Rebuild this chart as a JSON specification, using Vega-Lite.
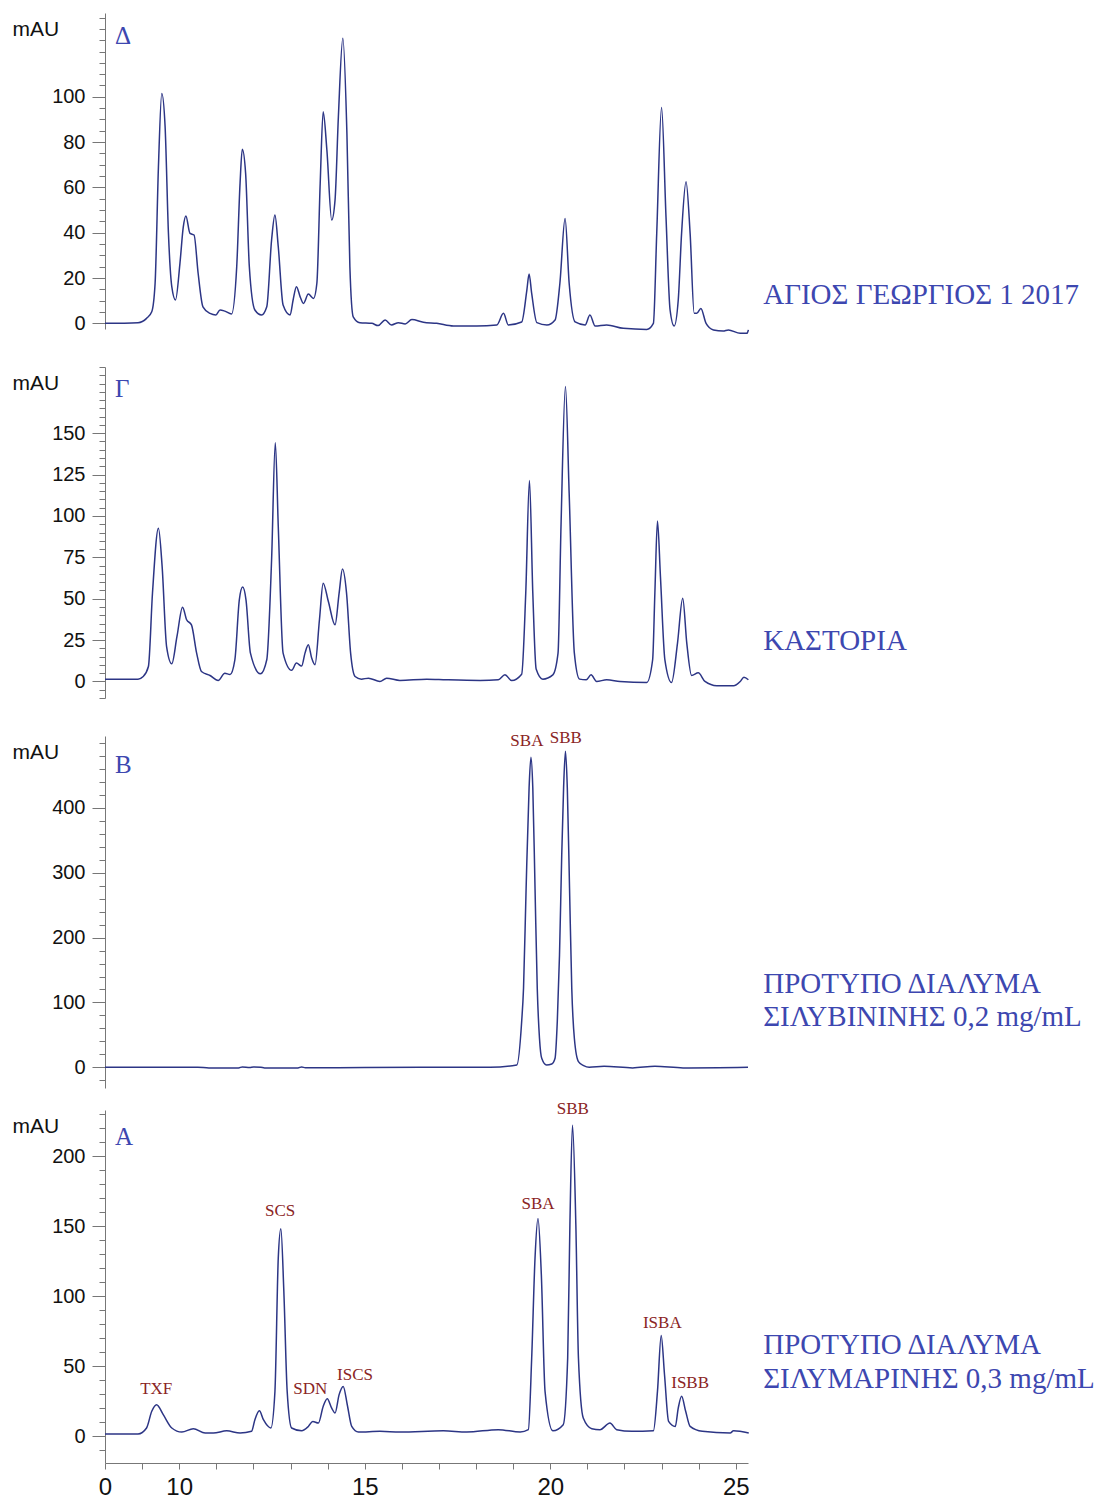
{
  "$schema": "https://vega.github.io/schema/vega-lite/v6.json",
  "autosize": {"type": "pad"},
  "padding": {"left": 12, "top": 7, "right": 0, "bottom": 0},
  "background": "white",
  "config": {
    "view": {"stroke": null},
    "font": "Liberation Sans",
    "axis": {"grid": false, "labelFlush": false, "labelOverlap": false, "domainColor": "#777", "tickColor": "#777", "labelColor": "#111", "labelFont": "Liberation Sans", "titleFont": "Liberation Sans", "domainWidth": 1, "tickWidth": 1},
    "axisY": {"labelFontSize": 20, "labelPadding": 7, "titleAngle": 0, "titleX": -93, "titleY": 22, "titleAlign": "left", "titleBaseline": "alphabetic", "titleFontWeight": "normal", "titleFontSize": 21, "titleColor": "#111"}
  },
  "datasets": {
    "d": [
      {"t":8.00,"v":0},{"t":8.89,"v":0.3},{"t":9.12,"v":2.2},{"t":9.26,"v":5.1},{"t":9.35,"v":17.6},{"t":9.44,"v":69},{"t":9.53,"v":101.5},{"t":9.62,"v":86.8},{"t":9.71,"v":39.7},{"t":9.80,"v":16.2},{"t":9.90,"v":10.3},{"t":10.02,"v":26.5},{"t":10.11,"v":42.6},{"t":10.18,"v":47.4},{"t":10.29,"v":39.7},{"t":10.40,"v":39},{"t":10.51,"v":22.1},{"t":10.64,"v":7.3},{"t":10.83,"v":4.4},{"t":10.99,"v":3.7},{"t":11.10,"v":5.9},{"t":11.23,"v":5.4},{"t":11.41,"v":4.1},{"t":11.55,"v":25},{"t":11.64,"v":61.8},{"t":11.70,"v":76.8},{"t":11.79,"v":66.2},{"t":11.89,"v":25},{"t":12.04,"v":5.9},{"t":12.22,"v":3.7},{"t":12.36,"v":7.3},{"t":12.49,"v":36.8},{"t":12.58,"v":47.8},{"t":12.67,"v":33.8},{"t":12.80,"v":8.1},{"t":12.99,"v":3.7},{"t":13.07,"v":10.3},{"t":13.16,"v":16.2},{"t":13.26,"v":11.7},{"t":13.35,"v":8.8},{"t":13.48,"v":12.9},{"t":13.62,"v":11},{"t":13.71,"v":17.7},{"t":13.80,"v":61.8},{"t":13.88,"v":93.4},{"t":13.98,"v":76.5},{"t":14.11,"v":45.6},{"t":14.20,"v":54.4},{"t":14.29,"v":91.2},{"t":14.41,"v":125.8},{"t":14.52,"v":83.8},{"t":14.60,"v":25},{"t":14.69,"v":2.9},{"t":14.87,"v":0.3},{"t":15.19,"v":0},{"t":15.36,"v":-1},{"t":15.55,"v":1.5},{"t":15.72,"v":-0.7},{"t":15.91,"v":0.3},{"t":16.09,"v":-0.3},{"t":16.27,"v":1.7},{"t":16.58,"v":0.5},{"t":16.94,"v":0},{"t":17.39,"v":-1.2},{"t":18.02,"v":-1.2},{"t":18.56,"v":-0.7},{"t":18.74,"v":4.4},{"t":18.87,"v":-0.7},{"t":19.23,"v":0.6},{"t":19.37,"v":14.7},{"t":19.43,"v":21.8},{"t":19.50,"v":13.2},{"t":19.64,"v":0.3},{"t":19.91,"v":-0.7},{"t":20.13,"v":1.5},{"t":20.26,"v":17.7},{"t":20.40,"v":46.3},{"t":20.51,"v":17.7},{"t":20.67,"v":0.6},{"t":20.94,"v":-0.7},{"t":21.07,"v":3.7},{"t":21.21,"v":-1.2},{"t":21.52,"v":-0.7},{"t":21.97,"v":-2.2},{"t":22.60,"v":-2.7},{"t":22.78,"v":0},{"t":22.87,"v":39.7},{"t":23.00,"v":95.3},{"t":23.12,"v":47},{"t":23.23,"v":5.9},{"t":23.34,"v":-1.2},{"t":23.45,"v":10.3},{"t":23.54,"v":39.7},{"t":23.66,"v":62.5},{"t":23.77,"v":39.7},{"t":23.88,"v":4.4},{"t":23.95,"v":4.4},{"t":24.06,"v":6.6},{"t":24.20,"v":0},{"t":24.40,"v":-2.9},{"t":24.66,"v":-3.4},{"t":24.80,"v":-2.9},{"t":25.12,"v":-4.4},{"t":25.30,"v":-4.4},{"t":25.34,"v":-2.9}
    ],
    "g": [
      {"t":8.00,"v":1.4},{"t":8.89,"v":1.4},{"t":9.03,"v":3},{"t":9.17,"v":9},{"t":9.28,"v":53.4},{"t":9.44,"v":92.6},{"t":9.54,"v":69.4},{"t":9.66,"v":21.1},{"t":9.80,"v":10.7},{"t":9.94,"v":27.2},{"t":10.09,"v":44.9},{"t":10.20,"v":37.3},{"t":10.33,"v":34.2},{"t":10.47,"v":17.1},{"t":10.60,"v":6},{"t":10.83,"v":3.6},{"t":11.05,"v":0.6},{"t":11.23,"v":5},{"t":11.37,"v":4.2},{"t":11.50,"v":13.1},{"t":11.62,"v":49.3},{"t":11.71,"v":57},{"t":11.80,"v":49.3},{"t":11.92,"v":17.1},{"t":12.19,"v":4.6},{"t":12.36,"v":13.1},{"t":12.49,"v":73.5},{"t":12.59,"v":144.3},{"t":12.67,"v":93.6},{"t":12.80,"v":17.1},{"t":13.03,"v":6.7},{"t":13.16,"v":11.1},{"t":13.30,"v":9.3},{"t":13.39,"v":17.1},{"t":13.48,"v":22.2},{"t":13.57,"v":14.2},{"t":13.66,"v":10.1},{"t":13.78,"v":37.3},{"t":13.88,"v":59.4},{"t":14.02,"v":48.3},{"t":14.20,"v":34.2},{"t":14.31,"v":53.4},{"t":14.40,"v":67.9},{"t":14.51,"v":53.4},{"t":14.62,"v":17.1},{"t":14.74,"v":3},{"t":14.91,"v":1.4},{"t":15.10,"v":2},{"t":15.41,"v":0},{"t":15.59,"v":2},{"t":15.95,"v":0.6},{"t":16.67,"v":1.4},{"t":17.20,"v":1},{"t":18.11,"v":0.6},{"t":18.60,"v":1},{"t":18.78,"v":4},{"t":18.96,"v":0.6},{"t":19.23,"v":4.4},{"t":19.34,"v":53.4},{"t":19.44,"v":121.4},{"t":19.53,"v":53.4},{"t":19.62,"v":7.5},{"t":19.80,"v":1.4},{"t":20.07,"v":4},{"t":20.21,"v":17.1},{"t":20.29,"v":93.6},{"t":20.41,"v":178.2},{"t":20.51,"v":113.8},{"t":20.65,"v":17.1},{"t":20.79,"v":1.4},{"t":20.97,"v":1},{"t":21.10,"v":4},{"t":21.25,"v":0},{"t":21.52,"v":1},{"t":21.88,"v":0},{"t":22.60,"v":-0.6},{"t":22.76,"v":13.1},{"t":22.82,"v":53.4},{"t":22.89,"v":97},{"t":22.97,"v":63.5},{"t":23.09,"v":13.1},{"t":23.27,"v":-0.6},{"t":23.43,"v":23.2},{"t":23.57,"v":50.3},{"t":23.68,"v":23.2},{"t":23.81,"v":3.6},{"t":23.99,"v":5.2},{"t":24.17,"v":0},{"t":24.49,"v":-2.6},{"t":24.94,"v":-2.6},{"t":25.12,"v":0},{"t":25.22,"v":2.6},{"t":25.34,"v":1}
    ],
    "b": [
      {"t":8.00,"v":0},{"t":10.5,"v":0},{"t":10.8,"v":-1},{"t":11.6,"v":-1},{"t":11.7,"v":0.5},{"t":11.9,"v":-0.5},{"t":12.0,"v":0.5},{"t":12.2,"v":0},{"t":12.3,"v":-1},{"t":13.2,"v":-1},{"t":13.3,"v":0.5},{"t":13.4,"v":-0.8},{"t":15.0,"v":-0.5},{"t":17.0,"v":0},{"t":18.38,"v":0},{"t":19.10,"v":3.6},{"t":19.23,"v":70.5},{"t":19.28,"v":122},{"t":19.35,"v":276.5},{"t":19.43,"v":431},{"t":19.48,"v":478.3},{"t":19.53,"v":431},{"t":19.59,"v":276.5},{"t":19.65,"v":122},{"t":19.71,"v":44.8},{"t":19.77,"v":13.9},{"t":19.90,"v":3.6},{"t":20.04,"v":5},{"t":20.13,"v":13.9},{"t":20.19,"v":70.5},{"t":20.25,"v":173.6},{"t":20.31,"v":328},{"t":20.36,"v":431},{"t":20.41,"v":487.6},{"t":20.46,"v":431},{"t":20.52,"v":276.5},{"t":20.58,"v":122},{"t":20.65,"v":44.8},{"t":20.76,"v":8.8},{"t":20.90,"v":2.6},{"t":21.05,"v":0},{"t":21.45,"v":1.5},{"t":22.22,"v":-1},{"t":22.82,"v":1.5},{"t":23.58,"v":-1},{"t":25.33,"v":0}
    ],
    "a": [
      {"t":8.00,"v":1.7},{"t":8.89,"v":1.7},{"t":9.12,"v":6},{"t":9.26,"v":17.9},{"t":9.39,"v":22.6},{"t":9.57,"v":15.5},{"t":9.80,"v":6},{"t":10.07,"v":3.1},{"t":10.38,"v":5.5},{"t":10.70,"v":2.4},{"t":10.92,"v":2.4},{"t":11.28,"v":4},{"t":11.64,"v":2.4},{"t":11.95,"v":3.6},{"t":12.04,"v":11.9},{"t":12.16,"v":18.3},{"t":12.27,"v":11.9},{"t":12.47,"v":6},{"t":12.58,"v":32.1},{"t":12.67,"v":127.4},{"t":12.74,"v":148.3},{"t":12.82,"v":103.6},{"t":12.91,"v":32.1},{"t":13.03,"v":6},{"t":13.30,"v":4},{"t":13.48,"v":7.1},{"t":13.60,"v":10.7},{"t":13.75,"v":9.5},{"t":13.88,"v":21.4},{"t":13.99,"v":26.9},{"t":14.11,"v":20.2},{"t":14.20,"v":16.7},{"t":14.31,"v":29.8},{"t":14.42,"v":35.7},{"t":14.53,"v":22.6},{"t":14.65,"v":7.1},{"t":14.83,"v":3.1},{"t":15.41,"v":3.6},{"t":15.95,"v":3.1},{"t":17.12,"v":4},{"t":17.75,"v":3.1},{"t":18.60,"v":4.8},{"t":19.19,"v":3.1},{"t":19.41,"v":4.8},{"t":19.50,"v":55.9},{"t":19.59,"v":127.4},{"t":19.67,"v":155.5},{"t":19.76,"v":115.5},{"t":19.86,"v":32.1},{"t":20.07,"v":4},{"t":20.35,"v":8.3},{"t":20.47,"v":55.9},{"t":20.53,"v":151.2},{"t":20.60,"v":222.1},{"t":20.69,"v":151.2},{"t":20.76,"v":55.9},{"t":20.89,"v":13.1},{"t":21.12,"v":5.5},{"t":21.34,"v":4.8},{"t":21.61,"v":9.5},{"t":21.79,"v":4.8},{"t":22.20,"v":3.6},{"t":22.78,"v":4},{"t":22.89,"v":32.1},{"t":22.99,"v":72.1},{"t":23.08,"v":44},{"t":23.19,"v":10.7},{"t":23.37,"v":7.1},{"t":23.45,"v":20.2},{"t":23.54,"v":28.6},{"t":23.65,"v":17.9},{"t":23.77,"v":7.1},{"t":24.10,"v":3.6},{"t":24.85,"v":2.4},{"t":24.94,"v":4},{"t":25.35,"v":2.4}
    ],
    "dT": [
      {"t":8.27,"v":127,"s":"Δ","kind":"id"},
      {"t":25.74,"v":12.5,"s":"ΑΓΙΟΣ ΓΕΩΡΓΙΟΣ 1 2017","kind":"name"}
    ],
    "gT": [
      {"t":8.27,"v":177,"s":"Γ","kind":"id"},
      {"t":25.74,"v":24.6,"s":"ΚΑΣΤΟΡΙΑ","kind":"name"}
    ],
    "bT": [
      {"t":8.27,"v":466,"s":"B","kind":"id"},
      {"t":25.74,"v":127.7,"s":"ΠΡΟΤΥΠΟ ΔΙΑΛΥΜΑ","kind":"name"},
      {"t":25.74,"v":76.8,"s":"ΣΙΛΥΒΙΝΙΝΗΣ 0,2 mg/mL","kind":"name"},
      {"t":19.37,"v":503,"s":"SBA","kind":"peak"},
      {"t":20.42,"v":507.6,"s":"SBB","kind":"peak"}
    ],
    "aT": [
      {"t":8.27,"v":214,"s":"A","kind":"id"},
      {"t":25.74,"v":65,"s":"ΠΡΟΤΥΠΟ ΔΙΑΛΥΜΑ","kind":"name"},
      {"t":25.74,"v":40.7,"s":"ΣΙΛΥΜΑΡΙΝΗΣ 0,3 mg/mL","kind":"name"},
      {"t":9.38,"v":33.6,"s":"TXF","kind":"peak"},
      {"t":12.72,"v":160.7,"s":"SCS","kind":"peak"},
      {"t":13.53,"v":33.6,"s":"SDN","kind":"peak"},
      {"t":14.74,"v":44,"s":"ISCS","kind":"peak"},
      {"t":19.67,"v":166,"s":"SBA","kind":"peak"},
      {"t":20.61,"v":234,"s":"SBB","kind":"peak"},
      {"t":23.02,"v":80.7,"s":"ISBA","kind":"peak"},
      {"t":23.77,"v":37.9,"s":"ISBB","kind":"peak"}
    ]
  },
  "spacing": 8,
  "vconcat": [
    {
      "bounds": "flush",
      "spacing": 38,
      "vconcat": [
        {
          "width": 643, "height": 316,
          "encoding": {
            "x": {"field": "t", "type": "quantitative", "scale": {"domain": [8, 25.33], "nice": false, "zero": false}, "axis": null},
            "y": {"field": "v", "type": "quantitative", "scale": {"domain": [-2.5, 137], "nice": false, "zero": false},
              "axis": {"title": "mAU", "values": [0,5,10,15,20,25,30,35,40,45,50,55,60,65,70,75,80,85,90,95,100,105,110,115,120,125,130,135],
                "labelExpr": "(datum.value % 20 == 0 && datum.value <= 100) ? datum.label : ''",
                "tickSize": {"condition": {"test": "datum.value % 20 == 0 && datum.value <= 100", "value": 13}, "value": 6}}}
          },
          "layer": [
            {"data": {"name": "d"}, "mark": {"type": "line", "color": "#2c3585", "strokeWidth": 1.5, "interpolate": "monotone"}},
            {"data": {"name": "dT"}, "transform": [{"filter": "datum.kind == 'id'"}], "mark": {"type": "text", "font": "Liberation Serif", "fontSize": 25, "color": "#3d47b0", "align": "left", "baseline": "middle"}, "encoding": {"text": {"field": "s"}}},
            {"data": {"name": "dT"}, "transform": [{"filter": "datum.kind == 'name'"}], "mark": {"type": "text", "font": "Liberation Serif", "fontSize": 29, "color": "#3d47b0", "align": "left", "baseline": "middle"}, "encoding": {"text": {"field": "s"}}}
          ]
        },
        {
          "width": 643, "height": 331,
          "encoding": {
            "x": {"field": "t", "type": "quantitative", "scale": {"domain": [8, 25.33], "nice": false, "zero": false}, "axis": null},
            "y": {"field": "v", "type": "quantitative", "scale": {"domain": [-10, 190], "nice": false, "zero": false},
              "axis": {"title": "mAU", "values": [-10,-5,0,5,10,15,20,25,30,35,40,45,50,55,60,65,70,75,80,85,90,95,100,105,110,115,120,125,130,135,140,145,150,155,160,165,170,175,180,185,190],
                "labelExpr": "(datum.value % 25 == 0 && datum.value >= 0 && datum.value <= 150) ? datum.label : ''",
                "tickSize": {"condition": {"test": "datum.value % 25 == 0 && datum.value >= 0 && datum.value <= 150", "value": 13}, "value": 6}}}
          },
          "layer": [
            {"data": {"name": "g"}, "mark": {"type": "line", "color": "#2c3585", "strokeWidth": 1.5, "interpolate": "monotone"}},
            {"data": {"name": "gT"}, "transform": [{"filter": "datum.kind == 'id'"}], "mark": {"type": "text", "font": "Liberation Serif", "fontSize": 25, "color": "#3d47b0", "align": "left", "baseline": "middle"}, "encoding": {"text": {"field": "s"}}},
            {"data": {"name": "gT"}, "transform": [{"filter": "datum.kind == 'name'"}], "mark": {"type": "text", "font": "Liberation Serif", "fontSize": 29, "color": "#3d47b0", "align": "left", "baseline": "middle"}, "encoding": {"text": {"field": "s"}}}
          ]
        },
        {
          "width": 643, "height": 352,
          "encoding": {
            "x": {"field": "t", "type": "quantitative", "scale": {"domain": [8, 25.33], "nice": false, "zero": false}, "axis": null},
            "y": {"field": "v", "type": "quantitative", "scale": {"domain": [-32, 511], "nice": false, "zero": false},
              "axis": {"title": "mAU", "values": [-20,0,20,40,60,80,100,120,140,160,180,200,220,240,260,280,300,320,340,360,380,400,420,440,460,480,500],
                "labelExpr": "(datum.value % 100 == 0 && datum.value >= 0 && datum.value <= 400) ? datum.label : ''",
                "tickSize": {"condition": {"test": "datum.value % 100 == 0 && datum.value >= 0 && datum.value <= 400", "value": 13}, "value": 6}}}
          },
          "layer": [
            {"data": {"name": "b"}, "mark": {"type": "line", "color": "#2c3585", "strokeWidth": 1.5, "interpolate": "monotone"}},
            {"data": {"name": "bT"}, "transform": [{"filter": "datum.kind == 'id'"}], "mark": {"type": "text", "font": "Liberation Serif", "fontSize": 25, "color": "#3d47b0", "align": "left", "baseline": "middle"}, "encoding": {"text": {"field": "s"}}},
            {"data": {"name": "bT"}, "transform": [{"filter": "datum.kind == 'name'"}], "mark": {"type": "text", "font": "Liberation Serif", "fontSize": 29, "color": "#3d47b0", "align": "left", "baseline": "middle"}, "encoding": {"text": {"field": "s"}}},
            {"data": {"name": "bT"}, "transform": [{"filter": "datum.kind == 'peak'"}], "mark": {"type": "text", "font": "Liberation Serif", "fontSize": 17, "color": "#8a2424", "align": "center", "baseline": "middle"}, "encoding": {"text": {"field": "s"}}}
          ]
        }
      ]
    },
    {
      "width": 643, "height": 353,
      "encoding": {
        "x": {"field": "t", "type": "quantitative", "scale": {"domain": [8, 25.33], "nice": false, "zero": false},
          "axis": {"values": [8,9,10,11,12,13,14,15,16,17,18,19,20,21,22,23,24,25],
            "labelExpr": "datum.value == 8 ? '0' : (datum.value % 5 == 0 ? datum.label : '')",
            "tickSize": 6, "labelPadding": 6, "labelFontSize": 24, "title": null}},
        "y": {"field": "v", "type": "quantitative", "scale": {"domain": [-19, 233], "nice": false, "zero": false},
          "axis": {"title": "mAU", "values": [-10,0,10,20,30,40,50,60,70,80,90,100,110,120,130,140,150,160,170,180,190,200,210,220,230],
            "labelExpr": "(datum.value % 50 == 0 && datum.value >= 0 && datum.value <= 200) ? datum.label : ''",
            "tickSize": {"condition": {"test": "datum.value % 50 == 0 && datum.value >= 0 && datum.value <= 200", "value": 13}, "value": 6}}}
      },
      "layer": [
        {"data": {"name": "a"}, "mark": {"type": "line", "color": "#2c3585", "strokeWidth": 1.5, "interpolate": "monotone"}},
        {"data": {"name": "aT"}, "transform": [{"filter": "datum.kind == 'id'"}], "mark": {"type": "text", "font": "Liberation Serif", "fontSize": 25, "color": "#3d47b0", "align": "left", "baseline": "middle"}, "encoding": {"text": {"field": "s"}}},
        {"data": {"name": "aT"}, "transform": [{"filter": "datum.kind == 'name'"}], "mark": {"type": "text", "font": "Liberation Serif", "fontSize": 29, "color": "#3d47b0", "align": "left", "baseline": "middle"}, "encoding": {"text": {"field": "s"}}},
        {"data": {"name": "aT"}, "transform": [{"filter": "datum.kind == 'peak'"}], "mark": {"type": "text", "font": "Liberation Serif", "fontSize": 17, "color": "#8a2424", "align": "center", "baseline": "middle"}, "encoding": {"text": {"field": "s"}}}
      ]
    }
  ]
}
